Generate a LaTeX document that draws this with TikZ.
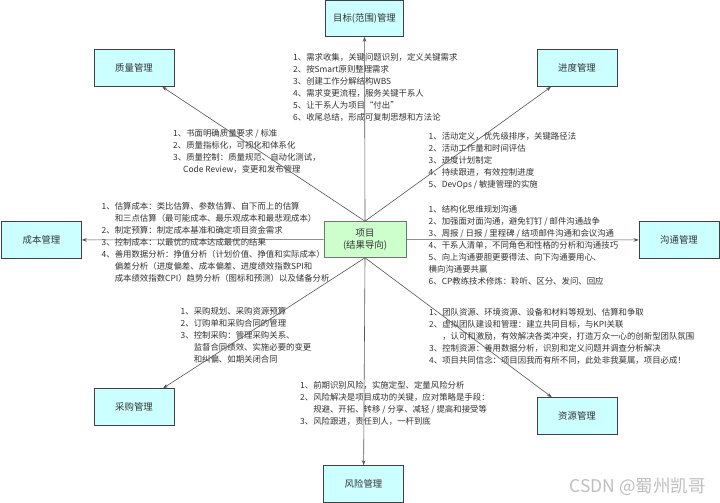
\documentclass[tikz,border=0pt]{standalone}
\usepackage{fontspec}
\setmainfont{Noto Sans CJK SC}
\usepackage{xcolor}
\usepackage{tikz}
\usetikzlibrary{arrows.meta, positioning}

\definecolor{boxcyan}{HTML}{CCFFFF}
\definecolor{boxgreen}{HTML}{CCFFCC}
\definecolor{txtgray}{HTML}{333333}
\definecolor{linegray}{HTML}{555555}

\newcommand{\ind}{\phantom{1、}}

\begin{document}
\begin{tikzpicture}[
    x=1pt, y=-1pt,
    box/.style={rectangle, draw=black!75, line width=0.6pt, fill=boxcyan, minimum width=80pt, minimum height=37pt, align=center, text=txtgray, font=\fontsize{9.4}{12.5}\selectfont},
    note/.style={anchor=north west, inner sep=0pt, align=left, text=txtgray, font=\fontsize{8.4}{12}\selectfont},
    arrow/.style={draw=linegray, line width=0.6pt, -{Stealth[length=5pt,width=3.6pt]}}
]
\useasboundingbox (0,0) rectangle (720,503);
\fill[white] (0,0) rectangle (720,503);

% Nodes
\node (proj) [box, fill=boxgreen, draw=black!55, minimum width=82pt, minimum height=36pt] at (365,239.5) {项目\\(结果导向)};
\node (scope) [box, minimum width=78pt, minimum height=36pt] at (364.5,18.5) {目标(范围)管理};
\node (quality) [box] at (134,68) {质量管理};
\node (sched) [box] at (577,68) {进度管理};
\node (cost) [box] at (41.5,240) {成本管理};
\node (comm) [box] at (679,240) {沟通管理};
\node (procure) [box] at (134,407) {采购管理};
\node (resource) [box] at (577,416) {资源管理};
\node (risk) [box] at (363.5,484) {风险管理};

% Notes
\node (scopetext) [note] at (293,53) {1、需求收集，关键问题识别，定义关键需求\\
2、按Smart原则整理需求\\
3、创建工作分解结构WBS\\
4、需求变更流程，服务关键干系人\\
5、让干系人为项目“付出”\\
6、收尾总结，形成可复制思想和方法论};

\node (qualtext) [note] at (173,129.5) {1、书面明确质量要求 / 标准\\
2、质量指标化，可视化和体系化\\
3、质量控制：质量规范、自动化测试，\\
\hspace{10pt}Code Review，变更和发布管理};

\node (schedtext) [note] at (428.5,132.5) {1、活动定义，优先级排序，关键路径法\\
2、活动工作量和时间评估\\
3、进度计划制定\\
4、持续跟进，有效控制进度\\
5、DevOps / 敏捷管理的实施};

\node (costtext) [note] at (101.5,202) {1、估算成本：类比估算、参数估算、自下而上的估算\\
\ind 和三点估算（最可能成本、最乐观成本和最悲观成本）\\
2、制定预算：制定成本基准和确定项目资金需求\\
3、控制成本：以最优的成本达成最优的结果\\
4、善用数据分析：挣值分析（计划价值、挣值和实际成本）\\
\ind 偏差分析（进度偏差、成本偏差、进度绩效指数SPI和\\
\ind 成本绩效指数CPI）趋势分析（图标和预测）以及储备分析};

\node (commtext) [note] at (428.5,205.5) {1、结构化思维规划沟通\\
2、加强面对面沟通，避免钉钉 / 邮件沟通战争\\
3、周报 / 日报 / 里程碑 / 结项邮件沟通和会议沟通\\
4、干系人清单，不同角色和性格的分析和沟通技巧\\
5、向上沟通要胆更要得法、向下沟通要用心、\\
横向沟通要共赢\\
6、CP教练技术修炼：聆听、区分、发问、回应};

\node (proctext) [note] at (180.5,307) {1、采购规划、采购资源预算\\
2、订购单和采购合同的管理\\
3、控制采购：管理采购关系、\\
\ind 监督合同绩效、实施必要的变更\\
\ind 和纠偏、如期关闭合同};

\node (restext) [note] at (429,308) {1、团队资源、环境资源、设备和材料等规划、估算和争取\\
2、虚拟团队建设和管理：建立共同目标，与KPI关联\\
\ind ，认可和激励，有效解决各类冲突，打造万众一心的创新型团队氛围\\
3、控制资源：善用数据分析，识别和定义问题并调查分析解决\\
4、项目共同信念：项目因我而有所不同，此处非我莫属，项目必成！};

\node (risktext) [note] at (300,381.5) {1、前期识别风险，实施定型、定量风险分析\\
2、风险解决是项目成功的关键，应对策略是手段：\\
\ind 规避、开拓、转移 / 分享、减轻 / 提高和接受等\\
3、风险跟进，责任到人，一杆到底};

\node (mark) [anchor=east, inner sep=0pt, text=gray!50, font=\fontsize{17.5}{20}\selectfont] at (706,487) {CSDN @蜀州凯哥};

% Arrows
\draw [arrow] (proj.north) -- (scope);
\draw [arrow] (proj.north) -- (quality);
\draw [arrow] (proj.north) -- (sched);
\draw [arrow] (proj) -- (cost);
\draw [arrow] (proj) -- (comm);
\draw [arrow] (proj.south) -- (procure);
\draw [arrow] (proj.south) -- (resource);
\draw [arrow] (proj.south) -- (risk);

\end{tikzpicture}
\end{document}
